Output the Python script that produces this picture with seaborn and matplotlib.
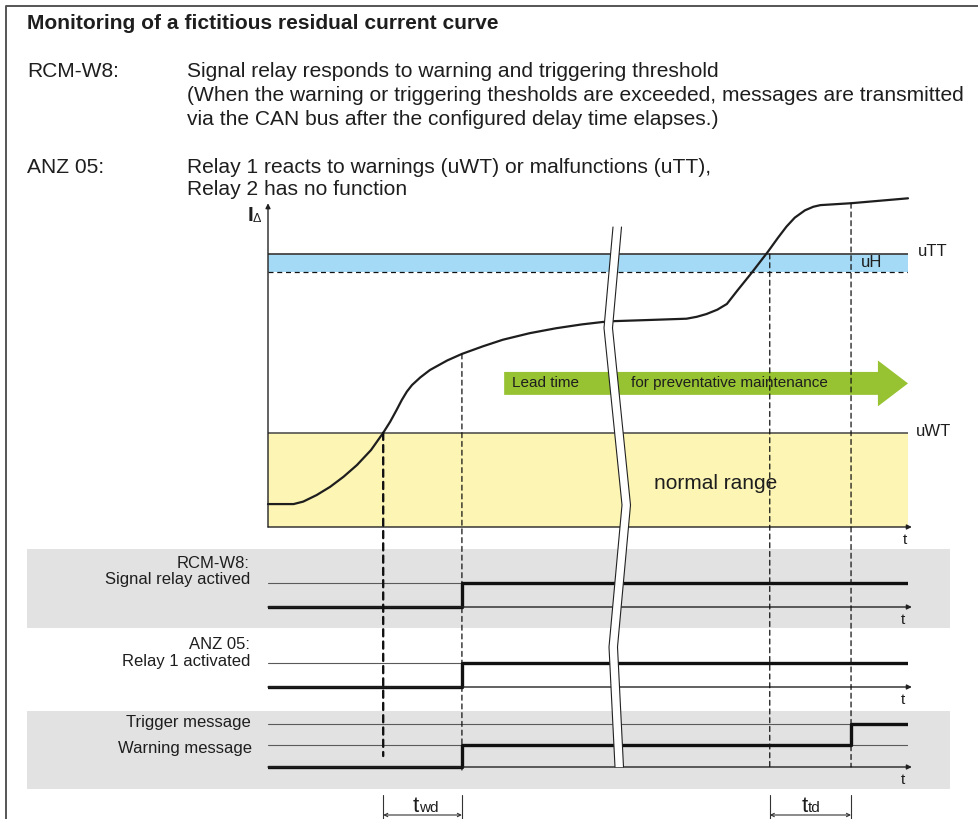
import matplotlib
matplotlib.use('Agg')
import matplotlib.pyplot as plt
from matplotlib.patches import Polygon, Rectangle, ConnectionPatch
import numpy as np
import seaborn as sns

# residual current curve: time in % of the shown span, current in % of uTT
curve_t = [0, 4.0, 5.5, 7.6, 9.7, 11.8, 13.9, 16.1, 18.0, 19.1,
           20.1, 20.9, 21.7, 22.5, 23.8, 25.3, 28.0, 30.3, 33.6, 36.7,
           40.9, 45.0, 49.0, 52.3, 54.0, 59.2, 65.4, 67.0, 68.5, 70.2,
           71.7, 73.4, 75.5, 78.1, 79.7, 81.0, 82.3, 83.9, 85.2, 86.3,
           91.1, 100]
curve_i = [8.4, 8.4, 9.3, 11.7, 14.7, 18.4, 22.7, 28.2, 34.5, 38.6,
           42.9, 46.5, 49.6, 52.0, 54.8, 57.5, 61.0, 63.4, 66.2, 68.6,
           71.0, 72.8, 74.2, 75.1, 75.4, 75.8, 76.3, 77.0, 78.0, 79.6,
           81.7, 86.8, 92.9, 100.8, 106.0, 110.0, 113.3, 116.0, 117.3, 117.9,
           118.6, 120.4]

# thresholds
U_WT = 34.5
U_H = 93.4
U_TT = 100.0

# switching moments
T_WARN = 18.0       # current exceeds uWT
T_WARN_OUT = 30.3   # after delay twd
T_TRIP = 78.4       # current exceeds uTT
T_TRIP_OUT = 91.1   # after delay ttd

sig_t = [0, T_WARN_OUT, 100]
rcm_relay = [0, 1, 1]
anz_relay = [0, 1, 1]
msg_t = [0, T_WARN_OUT, T_TRIP_OUT, 100]
msg_level = [0, 1, 2, 2]

title = 'Monitoring of a fictitious residual current curve'
rcm_lines = ['Signal relay responds to warning and triggering threshold',
             '(When the warning or triggering thesholds are exceeded, messages are transmitted',
             'via the CAN bus after the configured delay time elapses.)']
anz_lines = ['Relay 1 reacts to warnings (uWT) or malfunctions (uTT),',
             'Relay 2 has no function']

YELLOW = '#fdf5b4'
BLUE = '#a4daf5'
GREEN = '#97c232'
GREY = '#e2e2e2'
INK = '#1e1e1e'

sns.set_style('white')
plt.rcParams['font.family'] = ['Liberation Sans', 'DejaVu Sans']

W, H = 979, 819
fig = plt.figure(figsize=(W / 100, H / 100), dpi=100)


def rect(left, top, right, bottom):
    return [left / W, 1 - bottom / H, (right - left) / W, (bottom - top) / H]


# фон, рамка и тексты в пикселях
bg = fig.add_axes([0, 0, 1, 1], zorder=0)
bg.set_xlim(0, W)
bg.set_ylim(H, 0)
bg.axis('off')
bg.plot([6, 6, 990], [830, 6, 6], color='#555555', lw=1.4, clip_on=False)
bg.add_patch(Rectangle((27, 549), 923, 79, color=GREY, lw=0))
bg.add_patch(Rectangle((27, 711), 923, 78, color=GREY, lw=0))

FS = 15.1
bg.text(27, 29, title, fontsize=FS, weight='bold', color=INK)
bg.text(27, 77, 'RCM-W8:', fontsize=FS, color=INK)
for k, line in enumerate(rcm_lines):
    bg.text(187, 77 + 24 * k, line, fontsize=FS, color=INK)
bg.text(27, 173, 'ANZ 05:', fontsize=FS, color=INK)
for k, line in enumerate(anz_lines):
    bg.text(187, 173 + 22 * k, line, fontsize=FS, color=INK)

bg.text(253, 221, 'I', ha='right', fontsize=15, weight='bold', color=INK)
bg.text(253, 222, 'Δ', ha='left', fontsize=9, color=INK)

lbl = dict(ha='right', fontsize=12, color=INK)
bg.text(250, 568, 'RCM-W8:', **lbl)
bg.text(250, 584, 'Signal relay actived', **lbl)
bg.text(250, 649, 'ANZ 05:', **lbl)
bg.text(250, 666, 'Relay 1 activated', **lbl)
bg.text(251, 727, 'Trigger message', **lbl)
bg.text(252, 753, 'Warning message', **lbl)

# основной график тока
ax = fig.add_axes(rect(268, 205, 908, 527), zorder=2)
ax.patch.set_alpha(0)
ax.axhspan(0, U_WT, color=YELLOW, lw=0)
ax.axhspan(U_H, U_TT, color=BLUE, lw=0)
ax.axhline(U_WT, color='#444444', lw=1.1)
ax.axhline(U_TT, color='#444444', lw=1.3)
ax.axhline(U_H, color='#111111', lw=0.9, ls=(0, (4, 3)))

# зелёная стрелка
lead = Polygon([(36.9, 48.4), (95.3, 48.4), (95.3, 44.2), (100, 52.6),
                (95.3, 61.0), (95.3, 56.8), (36.9, 56.8)],
               closed=True, color=GREEN, lw=0)
ax.add_patch(lead)
ax.text(38.1, 52.6, 'Lead time', va='center', fontsize=11, color=INK)
ax.text(56.7, 52.6, 'for preventative maintenance', va='center', fontsize=11, color=INK)

sns.lineplot(x=curve_t, y=curve_i, ax=ax, color=INK, lw=1.6, clip_on=False)

arrow = dict(arrowstyle='-|>', color='#222222', lw=1.0, mutation_scale=7,
             shrinkA=0, shrinkB=0)
ax.annotate('', xy=(100.6, 0), xytext=(0, 0), arrowprops=arrow, annotation_clip=False)
ax.annotate('', xy=(0, 118.6), xytext=(0, 0), arrowprops=arrow, annotation_clip=False)
ax.set_xlim(0, 100)
ax.set_ylim(0, (527 - 205) / 2.73)
ax.axis('off')

ax.text(60.3, 16.1, 'normal range', va='center', fontsize=15, color=INK)
ax.text(92.7, 96.9, 'uH', va='center', fontsize=12, color=INK)
ax.text(101.6, U_TT + 0.8, 'uTT', va='center', fontsize=12, color=INK, clip_on=False)
ax.text(101.3, U_WT + 0.3, 'uWT', va='center', fontsize=12, color=INK, clip_on=False)
ax.text(99.5, -4.8, 't', ha='center', va='center', fontsize=11, color=INK, clip_on=False)

# сигнальные диаграммы (y в пикселях)
sig = fig.add_axes(rect(268, 549, 908, 819), zorder=2)
sig.patch.set_alpha(0)
rows = [(607, 24, sig_t, rcm_relay, [1]),
        (687, 24, sig_t, anz_relay, [1]),
        (767, 21.5, msg_t, msg_level, [1, 2])]
for base, unit, ts, levels, refs in rows:
    for r in refs:
        sig.plot([0, 100], [base - unit * r] * 2, color='#5a5a5a', lw=0.8)
    sig.annotate('', xy=(100.6, base), xytext=(0, base), arrowprops=arrow,
                 annotation_clip=False)
    sns.lineplot(x=ts, y=[base - unit * v for v in levels], ax=sig,
                 drawstyle='steps-post', color='#111111', lw=2.4)
    sig.text(99.2, base + 13, 't', ha='center', va='center', fontsize=11, color=INK)

# метки задержек
for t0, t1, sub, dx in [(T_WARN, T_WARN_OUT, 'wd', -3.5), (T_TRIP, T_TRIP_OUT, 'td', -2.5)]:
    for tt in (t0, t1):
        sig.plot([tt, tt], [795, 822], color='#333333', lw=0.8, clip_on=False)
    sig.annotate('', xy=(t1, 815), xytext=(t0, 815),
                 arrowprops=dict(arrowstyle='<->', color='#333333', lw=0.8,
                                 mutation_scale=6, shrinkA=0, shrinkB=0),
                 annotation_clip=False)
    mid = (t0 + t1) / 2
    sig.annotate('t', xy=(mid, 812), xytext=(dx * 0.72, 0), textcoords='offset points',
                 ha='right', va='baseline', fontsize=16, color=INK)
    sig.annotate(sub, xy=(mid, 812), xytext=(dx * 0.72, 0), textcoords='offset points',
                 ha='left', va='baseline', fontsize=11, color=INK)
sig.set_xlim(0, 100)
sig.set_ylim(819, 549)
sig.axis('off')

# пунктирные линии от кривой вниз
for tt, y_end, lw, dash in [(T_WARN, 756, 1.7, (3, 2.2)),
                            (T_WARN_OUT, 770, 0.9, (4, 3)),
                            (T_TRIP, 767, 0.9, (4, 3)),
                            (T_TRIP_OUT, 767, 0.9, (4, 3))]:
    y_start = min(np.interp(tt, curve_t, curve_i), U_TT) if tt == T_TRIP else np.interp(tt, curve_t, curve_i)
    con = ConnectionPatch(xyA=(tt, y_start), coordsA=ax.transData,
                          xyB=(tt, y_end), coordsB=sig.transData,
                          color='#111111', lw=lw, ls=(0, dash), zorder=2.5)
    fig.add_artist(con)

# разрыв оси времени
top = fig.add_axes([0, 0, 1, 1], zorder=3)
top.set_xlim(0, W)
top.set_ylim(H, 0)
top.axis('off')
brk_x = np.array([613, 604, 622, 609, 615])
brk_y = np.array([227, 328, 505, 647, 767])
gap = 8.5
top.add_patch(Polygon(np.column_stack([np.r_[brk_x, brk_x[::-1] + gap],
                                       np.r_[brk_y, brk_y[::-1]]]),
                      closed=True, color='white', lw=0))
top.plot(brk_x, brk_y, color='#222222', lw=0.8)
top.plot(brk_x + gap, brk_y, color='#222222', lw=0.8)

fig.savefig('out.png', dpi=100)
